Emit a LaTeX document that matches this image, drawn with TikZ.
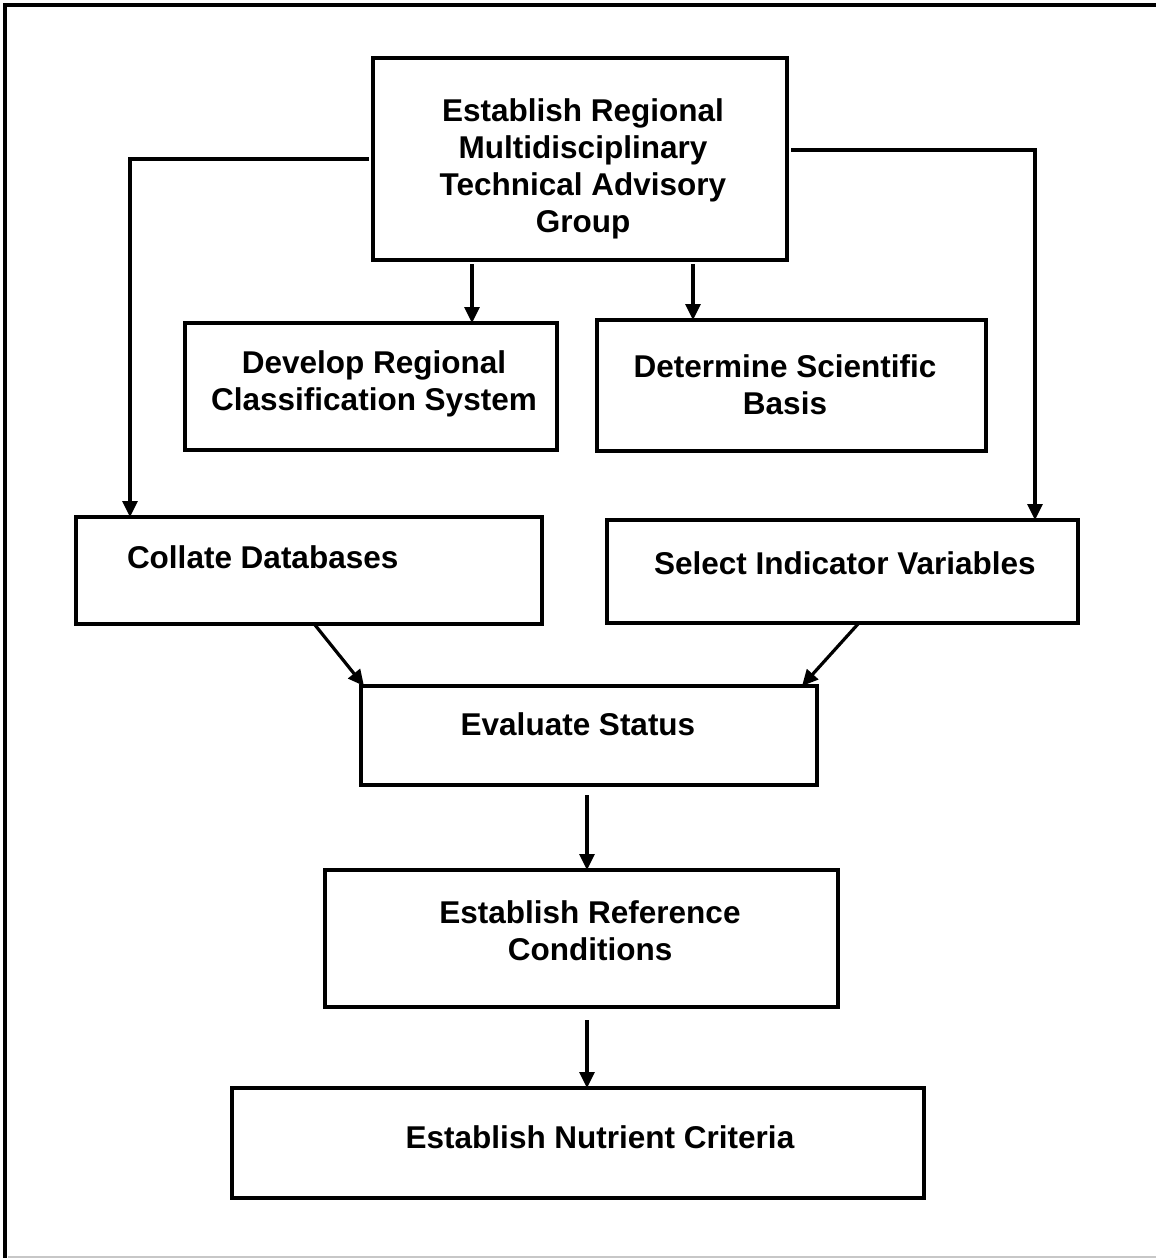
\documentclass[tikz,border=0pt]{standalone}
\usepackage{fontspec}
\setmainfont{Liberation Sans}
\usetikzlibrary{arrows.meta}
\begin{document}
\begin{tikzpicture}[x=1pt,y=-1pt,
  box/.style={draw=black, line width=4.5pt, inner sep=0pt, outer sep=0pt, fill=none},
  lbl/.style={inner sep=0pt, outer sep=0pt, align=center, anchor=base,
    font=\fontsize{31.5}{36.7}\selectfont\bfseries},
  conn/.style={line width=3.2pt, line join=miter},
  arr/.style={conn, -{Triangle[length=16pt,width=15pt]}},
  frame/.style={line width=4pt, line join=miter}]
\useasboundingbox (0,0) rectangle (1156,1258);
\fill[white] (0,0) rectangle (1156,1258);
% outer frame
\draw[frame] (5.3,1258) -- (5.3,5.3) -- (1156,5.3);
\draw[black!22, line width=1.5pt] (7.5,1257.2) -- (1156,1257.2);

% boxes
\node[box, minimum width=414pt, minimum height=202pt] (top) at (580,159) {};
\node[box, minimum width=372pt, minimum height=127pt] (develop) at (371,386.5) {};
\node[box, minimum width=389pt, minimum height=131pt] (determine) at (791.5,385.5) {};
\node[box, minimum width=466pt, minimum height=107pt] (collate) at (309,570.5) {};
\node[box, minimum width=471pt, minimum height=103pt] (select) at (842.5,571.5) {};
\node[box, minimum width=456pt, minimum height=99pt] (evaluate) at (589,735.5) {};
\node[box, minimum width=513pt, minimum height=137pt] (reference) at (581.5,938.5) {};
\node[box, minimum width=692pt, minimum height=110pt] (nutrient) at (578,1143) {};

% texts (anchor=base of a multi-line text is the last line's baseline)
\node[lbl] (top-t) at (583,232) {Establish Regional\\Multidisciplinary\\Technical Advisory\\Group};
\node[lbl] (develop-t) at (374,410) {Develop Regional\\Classification System};
\node[lbl] (determine-t) at (785,414) {Determine Scientific\\Basis};
\node[lbl, anchor=base west] (collate-t) at (127,568) {Collate Databases};
\node[lbl, anchor=base west] (select-t) at (654,574) {Select Indicator Variables};
\node[lbl] (evaluate-t) at (578,735) {Evaluate Status};
\node[lbl] (reference-t) at (590,960) {Establish Reference\\Conditions};
\node[lbl] (nutrient-t) at (600,1148) {Establish Nutrient Criteria};

% connectors
\draw[arr] ([xshift=-4pt]top.west) -| ([xshift=54pt]collate.north west);
\draw[arr] ([shift={(4pt,9pt)}]top.east) -| ([xshift=428pt]select.north west);
\draw[arr] ([shift={(99pt,-4pt)}]top.south west) -- ([xshift=287pt]develop.north west);
\draw[arr] ([shift={(320pt,-4pt)}]top.south west) -- ([xshift=96pt]determine.north west);
\draw[arr] ([shift={(239pt,-1pt)}]collate.south west) -- ([xshift=3pt]evaluate.north west);
\draw[arr] ([shift={(251pt,-1pt)}]select.south west) -- ([xshift=-15pt]evaluate.north east);
\draw[arr] ([shift={(-2pt,-10pt)}]evaluate.south) -- ([xshift=5.5pt]reference.north);
\draw[arr] ([shift={(5.5pt,-13pt)}]reference.south) -- ([xshift=9pt]nutrient.north);
\end{tikzpicture}
\end{document}
